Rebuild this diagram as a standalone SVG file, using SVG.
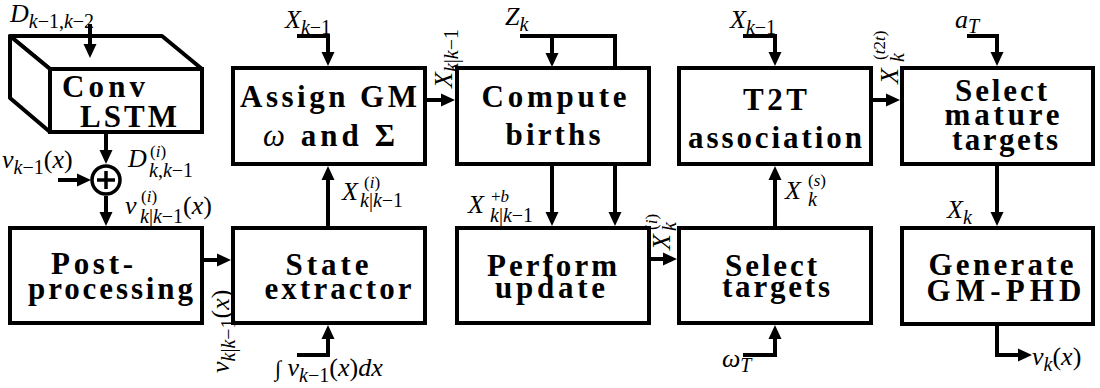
<svg xmlns="http://www.w3.org/2000/svg" width="1100" height="388" viewBox="0 0 1100 388" font-family="Liberation Serif, Times New Roman, DejaVu Serif, serif">
<defs>
<marker id="ah" markerWidth="14" markerHeight="14" viewBox="0 0 14 14" refX="3" refY="7" orient="auto" markerUnits="userSpaceOnUse"><path d="M0,0.5 L14,7 L0,13.5 z" fill="#000"/></marker>
</defs>
<style>
.box { fill:#fff; stroke:#000; stroke-width:4; }
.c { fill:none; stroke:#000; stroke-width:4; }
.a { marker-end:url(#ah); }
.t { font-weight:bold; font-size:31px; text-anchor:middle; fill:#000; }
.m { font-style:italic; font-size:26px; fill:#000; }
.s { font-size:20px; }
.ss { font-size:17px; }
.r { font-style:normal; }
</style>
<rect width="1100" height="388" fill="#fff"/>

<g id="convlstm">
<path class="box" d="M10,36 L162,36 L202,69 L50,69 Z" stroke-linejoin="round"/>
<path class="box" d="M10,36 L50,69 L50,132 L10,98 Z" stroke-linejoin="round"/>
<rect class="box" x="50" y="69" width="152" height="63"/>
<text class="t" font-family="Liberation Serif"><tspan x="103.5" y="97" textLength="83" lengthAdjust="spacing">Conv</tspan><tspan x="128.5" y="127" textLength="97" lengthAdjust="spacing">LSTM</tspan></text>
</g>

<g id="plus">
<circle cx="106" cy="180" r="14" fill="#fff" stroke="#000" stroke-width="3.5"/>
<path d="M97,180 H115 M106,171 V189" stroke="#000" stroke-width="3.5" fill="none"/>
</g>

<g id="postprocessing">
<rect class="box" x="10" y="228" width="192" height="95"/>
<text class="t"><tspan x="92" y="274" textLength="82" lengthAdjust="spacing">Post-</tspan><tspan x="110.5" y="299" textLength="165" lengthAdjust="spacing">processing</tspan></text>
</g>

<g id="assign">
<rect class="box" x="233" y="68" width="192" height="96"/>
<text class="t"><tspan x="328.5" y="107" textLength="177" lengthAdjust="spacing">Assign GM</tspan><tspan x="329" y="146" textLength="132" lengthAdjust="spacing"><tspan font-style="italic" font-weight="normal">ω</tspan> and Σ</tspan></text>
</g>

<g id="state">
<rect class="box" x="233" y="228" width="192" height="95"/>
<text class="t"><tspan x="327" y="275" textLength="83" lengthAdjust="spacing">State</tspan><tspan x="338" y="299" textLength="147" lengthAdjust="spacing">extractor</tspan></text>
</g>

<g id="births">
<rect class="box" x="457" y="68" width="192" height="96"/>
<text class="t"><tspan x="554" y="107" textLength="145" lengthAdjust="spacing">Compute</tspan><tspan x="553" y="145" textLength="95" lengthAdjust="spacing">births</tspan></text>
</g>

<g id="update">
<rect class="box" x="457" y="228" width="192" height="95"/>
<text class="t"><tspan x="552" y="276" textLength="130" lengthAdjust="spacing">Perform</tspan><tspan x="550" y="298" textLength="110" lengthAdjust="spacing">update</tspan></text>
</g>

<g id="t2t">
<rect class="box" x="679" y="68" width="192" height="96"/>
<text class="t"><tspan x="775" y="110" textLength="64" lengthAdjust="spacing">T2T</tspan><tspan x="775" y="148" textLength="174" lengthAdjust="spacing">association</tspan></text>
</g>

<g id="select">
<rect class="box" x="679" y="228" width="192" height="95"/>
<text class="t"><tspan x="771" y="276" textLength="92" lengthAdjust="spacing">Select</tspan><tspan x="776" y="297" textLength="108" lengthAdjust="spacing">targets</tspan></text>
</g>

<g id="mature">
<rect class="box" x="902" y="68" width="191" height="96"/>
<text class="t"><tspan x="1001" y="101" textLength="92" lengthAdjust="spacing">Select</tspan><tspan x="1002" y="125" textLength="115" lengthAdjust="spacing">mature</tspan><tspan x="1005" y="150" textLength="106" lengthAdjust="spacing">targets</tspan></text>
</g>

<g id="generate">
<rect class="box" x="902" y="228" width="191" height="96"/>
<text class="t"><tspan x="1001" y="275" textLength="145" lengthAdjust="spacing">Generate</tspan><tspan x="1004" y="301" textLength="155" lengthAdjust="spacing">GM-PHD</tspan></text>
</g>

<g id="connectors">
<path class="c a" d="M90,24 V47"/>
<path class="c a" d="M106,132 V153"/>
<path class="c a" d="M58,180 H80"/>
<path class="c a" d="M106,196 V215"/>
<path class="c a" d="M202,260 H220"/>
<path class="c a" d="M328,228 V177"/>
<path class="c a" d="M297,355 H328 V336"/>
<path class="c a" d="M297,36 H328 V55"/>
<path class="c a" d="M425,100 H444"/>
<path class="c" d="M520,36 H615 V68"/>
<path class="c a" d="M552,36 V56"/>
<path class="c a" d="M615,164 V215"/>
<path class="c a" d="M552,164 V215"/>
<path class="c a" d="M649,259 H666"/>
<path class="c a" d="M775,228 V177"/>
<path class="c a" d="M743,355 H775 V336"/>
<path class="c a" d="M743,36 H775 V55"/>
<path class="c a" d="M871,100 H889"/>
<path class="c a" d="M967,36 H997 V55"/>
<path class="c a" d="M997,164 V215"/>
<path class="c a" d="M997,324 V355 H1021"/>
</g>

<g id="labels">
<text class="m" x="10" y="22">D<tspan class="s" dy="6">k</tspan><tspan class="s r">−1,</tspan><tspan class="s">k</tspan><tspan class="s r">−2</tspan></text>
<text class="m" x="2" y="168">ν<tspan class="s" dy="6">k</tspan><tspan class="s r">−1</tspan><tspan class="r" dy="-6">(</tspan>x<tspan class="r">)</tspan></text>
<text class="m" x="128" y="167">D<tspan class="ss r" x="150" y="157">(</tspan><tspan class="ss">i</tspan><tspan class="ss r">)</tspan><tspan class="s" x="149" y="177">k</tspan><tspan class="s r">,</tspan><tspan class="s">k</tspan><tspan class="s r">−1</tspan></text>
<text class="m" x="125" y="214">ν<tspan class="ss r" x="141" y="202">(</tspan><tspan class="ss">i</tspan><tspan class="ss r">)</tspan><tspan class="s" x="140" y="223">k</tspan><tspan class="s r">|</tspan><tspan class="s">k</tspan><tspan class="s r">−1</tspan><tspan class="r" y="214">(</tspan>x<tspan class="r">)</tspan></text>
<text class="m" transform="translate(229,373) rotate(-90)">ν<tspan class="s" dy="6">k</tspan><tspan class="s r">|</tspan><tspan class="s">k</tspan><tspan class="s r">−1</tspan><tspan class="r" dy="-6">(</tspan>x<tspan class="r">)</tspan></text>
<text class="m" x="342" y="200">X<tspan class="ss r" x="364" y="188">(</tspan><tspan class="ss">i</tspan><tspan class="ss r">)</tspan><tspan class="s" x="360" y="207">k</tspan><tspan class="s r">|</tspan><tspan class="s">k</tspan><tspan class="s r">−1</tspan></text>
<text class="m" x="275" y="376"><tspan class="r" font-size="22">∫</tspan> ν<tspan class="s" dy="6">k</tspan><tspan class="s r">−1</tspan><tspan class="r" dy="-6">(</tspan>x<tspan class="r">)</tspan>dx</text>
<text class="m" x="285" y="28">X<tspan class="s" dy="6">k</tspan><tspan class="s r">−1</tspan></text>
<text class="m" transform="translate(452,88) rotate(-90)">X<tspan class="s" dy="6">k</tspan><tspan class="s r">|</tspan><tspan class="s">k</tspan><tspan class="s r">−1</tspan></text>
<text class="m" x="505" y="25">Z<tspan class="s" dy="6">k</tspan></text>
<text class="m" x="468" y="213">X<tspan class="ss r" x="491" y="202">+</tspan><tspan class="ss">b</tspan><tspan class="s" x="490" y="222">k</tspan><tspan class="s r">|</tspan><tspan class="s">k</tspan><tspan class="s r">−1</tspan></text>
<text class="m" transform="translate(670,250) rotate(-90)">X<tspan class="ss r" x="20" y="-13">(</tspan><tspan class="ss">i</tspan><tspan class="ss r">)</tspan><tspan class="s" x="19" y="6">k</tspan></text>
<text class="m" x="785" y="199">X<tspan class="ss r" x="808" y="186">(</tspan><tspan class="ss">s</tspan><tspan class="ss r">)</tspan><tspan class="s" x="808" y="206">k</tspan></text>
<text class="m" x="722" y="367">ω<tspan class="s" dy="5">T</tspan></text>
<text class="m" x="730" y="28">X<tspan class="s" dy="6">k</tspan><tspan class="s r">−1</tspan></text>
<text class="m" transform="translate(898,84) rotate(-90)">X<tspan class="ss r" x="24" y="-13">(</tspan><tspan class="ss">t</tspan><tspan class="ss r">2</tspan><tspan class="ss">t</tspan><tspan class="ss r">)</tspan><tspan class="s" x="22" y="6">k</tspan></text>
<text class="m" x="955" y="28">a<tspan class="s" dy="5">T</tspan></text>
<text class="m" x="947" y="218">X<tspan class="s" dy="6">k</tspan></text>
<text class="m" x="1032" y="365">ν<tspan class="s" dy="6">k</tspan><tspan class="r" dy="-6">(</tspan>x<tspan class="r">)</tspan></text>
</g>
</svg>
